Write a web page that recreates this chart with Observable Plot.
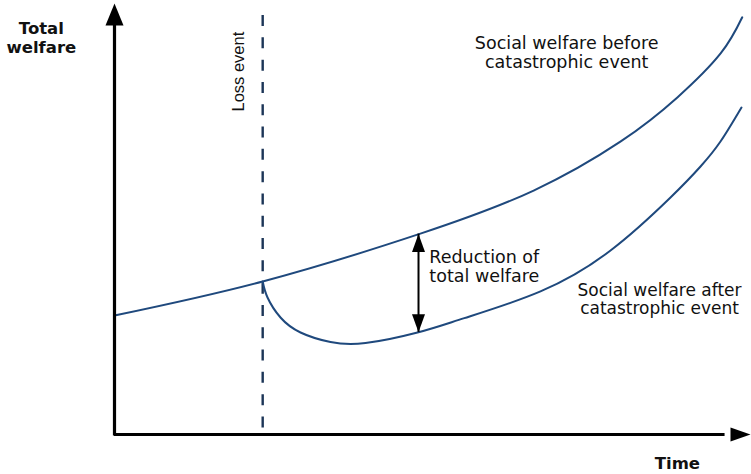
<!DOCTYPE html>
<html>
<head>
<meta charset="utf-8">
<script src="https://cdn.jsdelivr.net/npm/d3@7"></script>
<script src="https://cdn.jsdelivr.net/npm/@observablehq/plot@0.6"></script>
<style>
  html, body { margin: 0; padding: 0; background: #fff; }
  #chart svg { display: block; }
</style>
</head>
<body>
<div id="chart"></div>
<script>
// ---- Data (abstract units: time 0–100, welfare 0–100) ----
const beforeTime    = [0, 23.3, 48.1, 65.9, 79.6, 88.5, 95.3, 98.7];
const beforeWelfare = [27.6, 35.5, 46.6, 56.6, 68.0, 78.2, 88.4, 96.8];

const afterTime     = [23.3, 24.06, 26.1, 29.25, 33.96, 39.47, 47.64, 55.0, 66.98, 77.99, 87.42, 92.14, 95.28, 98.58];
const afterWelfare  = [35.5, 31.79, 27.15, 23.67, 21.46, 21.23, 23.67, 27.0, 33.2, 42.69, 54.99, 62.18, 67.98, 75.87];

const lossEventTime = [23.3];
const lossEventTop  = [97.2];

const reductionTime = [47.8];
const reductionHigh = [46.5];
const reductionLow  = [23.7];

const labelAxisY  = ["Total\nwelfare"];
const labelAxisX  = ["Time"];
const labelLoss   = ["Loss event"];
const labelBefore = ["Social welfare before\ncatastrophic event"];
const labelAfter  = ["Social welfare after\ncatastrophic event"];
const labelReduce = ["Reduction of\ntotal welfare"];

// ---- tables built from the arrays ----
const before = beforeTime.map((t, i) => ({t, w: beforeWelfare[i]}));
const after = afterTime.map((t, i) => ({t, w: afterWelfare[i]}));
const loss = lossEventTime.map((t, i) => ({t, top: lossEventTop[i]}));
const reduction = reductionTime.map((t, i) => ({t, hi: reductionHigh[i], lo: reductionLow[i]}));

// filled arrow-head symbol (apex at origin, pointing up)
const head = (w, h) => ({
  draw(ctx) { ctx.moveTo(0, 0); ctx.lineTo(-w / 2, h); ctx.lineTo(w / 2, h); ctx.closePath(); }
});

const curveColor = "#1f497d";
const dashColor = "#1c3557";
const font = "DejaVu Sans";

const chart = Plot.plot({
  width: 751,
  height: 474,
  margin: 0,
  style: {background: "#fff", overflow: "visible"},
  x: {domain: [0, 100], range: [114, 750], axis: null},
  y: {domain: [0, 100], range: [434, 3], axis: null},
  marks: [
    // dashed loss-event line
    Plot.ruleX(loss, {x: "t", y1: "top", y2: 0, stroke: dashColor, strokeWidth: 2.4, strokeDasharray: "11,11.3"}),
    // curves
    Plot.line(before, {x: "t", y: "w", curve: "natural", stroke: curveColor, strokeWidth: 2}),
    Plot.line(after, {x: "t", y: "w", curve: "natural", stroke: curveColor, strokeWidth: 2}),
    // axes
    Plot.ruleX([0], {y1: 0, y2: 95, stroke: "black", strokeWidth: 3.2, strokeLinecap: "square"}),
    Plot.ruleY([0], {x1: 0, x2: 96, stroke: "black", strokeWidth: 3.2}),
    Plot.dot([{t: 0, w: 100}], {x: "t", y: "w", symbol: head(18, 22), fill: "black", stroke: "none"}),
    Plot.dot([{t: 100, w: 0}], {x: "t", y: "w", symbol: head(14, 20), rotate: 90, fill: "black", stroke: "none"}),
    // reduction double arrow
    Plot.ruleX(reduction, {x: "t", y1: "hi", y2: "lo", stroke: "black", strokeWidth: 2}),
    Plot.dot(reduction, {x: "t", y: "hi", symbol: head(13, 18), fill: "black", stroke: "none"}),
    Plot.dot(reduction, {x: "t", y: "lo", symbol: head(13, 18), rotate: 180, fill: "black", stroke: "none"}),
    // texts
    Plot.text(labelAxisY, {x: -11.5, y: 88.4, text: d => d, fontFamily: font, fontWeight: "bold", fontSize: 16.5, lineAnchor: "bottom", lineHeight: 1.21, fill: "#111"}),
    Plot.text(labelAxisX, {x: 88.5, y: -8.1, text: d => d, fontFamily: font, fontWeight: "bold", fontSize: 16.5, lineAnchor: "bottom", fill: "#111"}),
    Plot.text(labelLoss, {x: 20.4, y: 84.2, text: d => d, rotate: -90, fontFamily: "Liberation Sans", fontSize: 16.5, lineAnchor: "bottom", fill: "#111"}),
    Plot.text(labelBefore, {x: 71.1, y: 85.0, text: d => d, fontFamily: font, fontSize: 17.5, lineAnchor: "bottom", lineHeight: 1.11, fill: "#111"}),
    Plot.text(labelReduce, {x: 49.5, y: 35.3, text: d => d, textAnchor: "start", fontFamily: font, fontSize: 17.5, lineAnchor: "bottom", lineHeight: 1.086, fill: "#111"}),
    Plot.text(labelAfter, {x: 85.7, y: 28.0, text: d => d, fontFamily: font, fontSize: 17, lineAnchor: "bottom", lineHeight: 1.03, fill: "#111"})
  ]
});
document.getElementById("chart").append(chart);
</script>
</body>
</html>
